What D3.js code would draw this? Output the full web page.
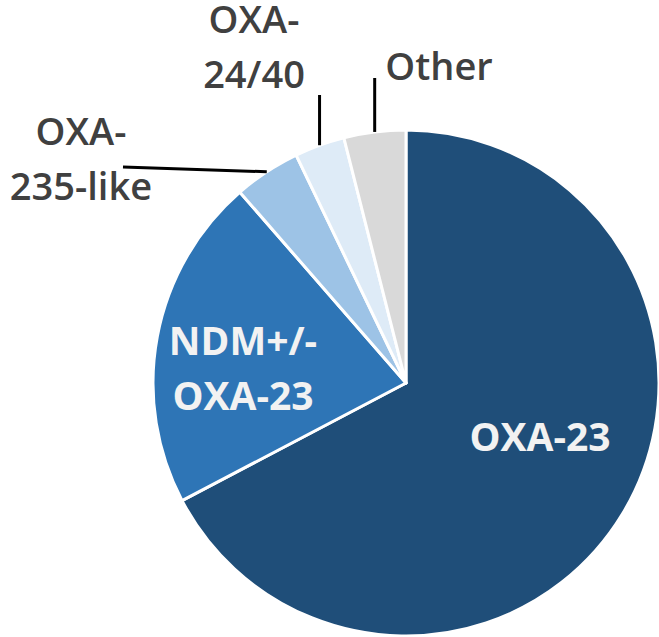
<!DOCTYPE html>
<html>
<head>
<meta charset="utf-8">
<script src="https://cdn.jsdelivr.net/npm/d3@7"></script>
<style>
  body { margin: 0; background: #fff; }
  text { font-family: "Open Sans", sans-serif; }
</style>
</head>
<body>
<script>
const W = 659;
const H = 637;
const CX = 406;
const CY = 383;
const R = 253;

// data
const categories = ["OXA-23", "NDM+/-\nOXA-23", "OXA-\n235-like", "OXA-\n24/40", "Other"];
const shares = [67.3, 21.3, 4.25, 3.2, 3.95];
const colors = ["#1f4e79", "#2e75b6", "#9dc3e6", "#deebf7", "#d9d9d9"];

// label layout (inside labels white bold, outside dark with leader lines)
const labelPos = [
  { x: 540, y: 451, inside: true },
  { x: 243, y: 355, inside: true },
  { x: 81, y: 145, inside: false, lead: { x: 123, y: 167 } },
  { x: 254, y: 33, inside: false, lead: { y: 95 } },
  { x: 439, y: 80, inside: false, lead: { y: 78 } }
];
const LINE_GAP = 55;

const svg = d3.select("body").append("svg")
  .attr("width", W)
  .attr("height", H);

const g = svg.append("g").attr("transform", "translate(" + CX + "," + CY + ")");

const pie = d3.pie().sort(null).value(d => d);
const arcs = pie(shares);
const arc = d3.arc().innerRadius(0).outerRadius(R);

g.selectAll("path")
  .data(arcs)
  .enter()
  .append("path")
  .attr("d", arc)
  .attr("fill", (_, i) => colors[i])
  .attr("stroke", "#fff")
  .attr("stroke-width", 3)
  .attr("stroke-linejoin", "round");

// leader lines
arcs.forEach((a, i) => {
  const p = labelPos[i];
  if (!p.lead) return;
  const mid = (a.startAngle + a.endAngle) / 2;
  const x0 = CX + R * Math.sin(mid);
  const y0 = CY - R * Math.cos(mid);
  const x1 = p.lead.x !== undefined ? p.lead.x : x0;
  const y1 = p.lead.y !== undefined ? p.lead.y : y0;
  svg.append("line")
    .attr("x1", x0).attr("y1", y0)
    .attr("x2", x1).attr("y2", y1)
    .attr("stroke", "#000")
    .attr("stroke-width", 3);
});

// labels
categories.forEach((c, i) => {
  const p = labelPos[i];
  const t = svg.append("text")
    .attr("text-anchor", "middle")
    .attr("font-size", p.inside ? 39 : 38)
    .attr("font-weight", p.inside ? 700 : 600)
    .attr("fill", p.inside ? "#f2f2f2" : "#404040");
  c.split("\n").forEach((line, j) => {
    t.append("tspan")
      .attr("x", p.x)
      .attr("y", p.y + j * LINE_GAP)
      .text(line);
  });
});
</script>
</body>
</html>
